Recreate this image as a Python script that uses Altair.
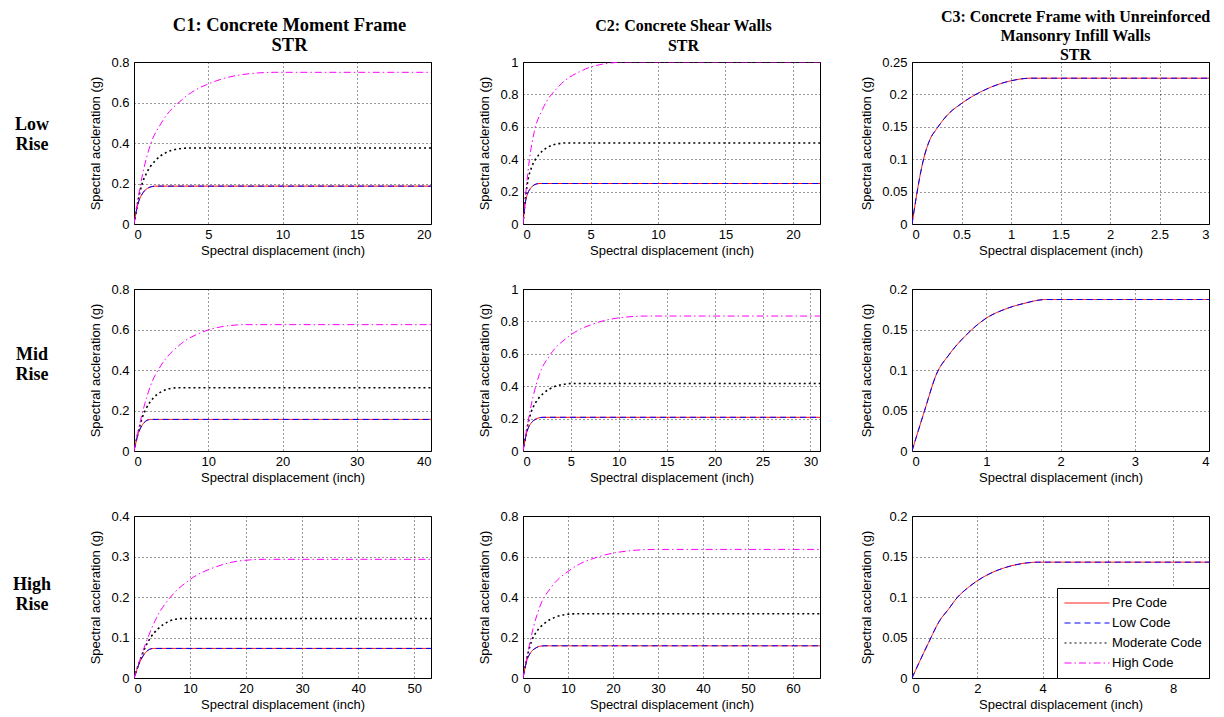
import altair as alt
import pandas as pd

# ---------------- data ----------------
CODES = ["Pre Code", "Low Code", "Moderate Code", "High Code"]
COLORS = ["#ff0000", "#0000ff", "#000000", "#ff00ff"]
DASHES = [[1, 0], [6, 4], [2, 3], [7, 3, 1.5, 3]]
WIDTHS = {"Pre Code": 1, "Low Code": 1, "Moderate Code": 1.6, "High Code": 1}

Y_TITLE = "Spectral accleration (g)"
X_TITLE = "Spectral displacement (inch)"

# C1 Low Rise
c1l_low_x = [0, 0.15, 0.255, 0.392, 0.623, 0.908, 1.158, 1.44, 20]
c1l_low_y = [0, 0.062, 0.097, 0.126, 0.156, 0.176, 0.184, 0.187, 0.187]
c1l_mod_x = [0, 0.30, 0.527, 0.849, 1.425, 2.169, 2.837, 3.60, 20]
c1l_mod_y = [0, 0.125, 0.194, 0.252, 0.312, 0.353, 0.369, 0.375, 0.375]
c1l_high_x = [0, 0.59, 1.091, 1.885, 3.40, 5.437, 7.307, 9.47, 20]
c1l_high_y = [0, 0.25, 0.388, 0.504, 0.624, 0.704, 0.738, 0.749, 0.749]

# C1 Mid Rise
c1m_low_x = [0, 0.32, 0.528, 0.768, 1.138, 1.564, 1.921, 2.31, 40]
c1m_low_y = [0, 0.052, 0.081, 0.105, 0.130, 0.147, 0.154, 0.156, 0.156]
c1m_mod_x = [0, 0.64, 1.082, 1.64, 2.565, 3.696, 4.68, 5.78, 40]
c1m_mod_y = [0, 0.104, 0.162, 0.210, 0.260, 0.293, 0.307, 0.312, 0.312]
c1m_high_x = [0, 1.27, 2.231, 3.592, 6.028, 9.172, 11.996, 15.22, 40]
c1m_high_y = [0, 0.208, 0.323, 0.420, 0.520, 0.587, 0.615, 0.624, 0.624]

# C1 High Rise
c1h_low_x = [0, 0.61, 0.986, 1.384, 1.945, 2.543, 3.016, 3.51, 53]
c1h_low_y = [0, 0.024, 0.038, 0.049, 0.061, 0.069, 0.072, 0.073, 0.073]
c1h_mod_x = [0, 1.22, 2.013, 2.925, 4.33, 5.949, 7.305, 8.78, 53]
c1h_mod_y = [0, 0.049, 0.076, 0.099, 0.122, 0.138, 0.145, 0.147, 0.147]
c1h_high_x = [0, 2.43, 4.14, 6.351, 10.08, 14.71, 18.76, 23.32, 53]
c1h_high_y = [0, 0.098, 0.152, 0.197, 0.244, 0.275, 0.289, 0.293, 0.293]

# C2 Low Rise
c2l_low_x = [0, 0.12, 0.191, 0.298, 0.495, 0.754, 0.989, 1.26, 22]
c2l_low_y = [0, 0.10, 0.142, 0.177, 0.213, 0.237, 0.247, 0.25, 0.25]
c2l_mod_x = [0, 0.24, 0.397, 0.654, 1.15, 1.822, 2.441, 3.16, 22]
c2l_mod_y = [0, 0.2, 0.283, 0.353, 0.425, 0.473, 0.493, 0.5, 0.5]
c2l_high_x = [0, 0.48, 0.827, 1.436, 2.655, 4.34, 5.909, 7.74, 22]
c2l_high_y = [0, 0.4, 0.567, 0.706, 0.85, 0.946, 0.987, 1.0, 1.0]

# C2 Mid Rise
c2m_low_x = [0, 0.26, 0.401, 0.589, 0.915, 1.325, 1.689, 2.10, 31]
c2m_low_y = [0, 0.083, 0.118, 0.147, 0.177, 0.197, 0.205, 0.208, 0.208]
c2m_mod_x = [0, 0.52, 0.825, 1.274, 2.095, 3.17, 4.143, 5.26, 31]
c2m_mod_y = [0, 0.167, 0.236, 0.294, 0.354, 0.394, 0.411, 0.417, 0.417]
c2m_high_x = [0, 1.04, 1.704, 2.764, 4.788, 7.512, 10.013, 12.91, 31]
c2m_high_y = [0, 0.333, 0.472, 0.588, 0.708, 0.788, 0.822, 0.833, 0.833]

# C2 High Rise
c2h_low_x = [0, 0.59, 0.908, 1.333, 2.063, 2.981, 3.792, 4.71, 66]
c2h_low_y = [0, 0.063, 0.090, 0.112, 0.135, 0.150, 0.157, 0.159, 0.159]
c2h_mod_x = [0, 1.18, 1.87, 2.875, 4.71, 7.107, 9.276, 11.76, 66]
c2h_mod_y = [0, 0.127, 0.180, 0.224, 0.269, 0.300, 0.313, 0.317, 0.317]
c2h_high_x = [0, 2.36, 3.872, 6.281, 10.893, 17.10, 22.807, 29.41, 66]
c2h_high_y = [0, 0.254, 0.360, 0.448, 0.540, 0.601, 0.626, 0.635, 0.635]

# C3 (pre code and low code only)
c3l_low_x = [0, 0.12, 0.18, 0.25, 0.35, 0.5, 0.75, 1.0, 1.2, 3]
c3l_low_y = [0, 0.102, 0.13, 0.147, 0.167, 0.186, 0.208, 0.221, 0.225, 0.225]
c3m_low_x = [0, 0.17, 0.33, 0.5, 0.75, 1.0, 1.25, 1.5, 1.8, 4]
c3m_low_y = [0, 0.05, 0.095, 0.119, 0.145, 0.164, 0.175, 0.182, 0.187, 0.187]
c3h_low_x = [0, 0.5, 0.85, 1.1, 1.4, 1.7, 2.0, 2.5, 3.0, 3.5, 3.85, 9.1]
c3h_low_y = [0, 0.043, 0.071, 0.084, 0.1, 0.111, 0.12, 0.131, 0.138, 0.142, 0.143, 0.143]

# axis limits and tick labels
c1l_xticks, c1l_yticks = [0, 5, 10, 15, 20], [0, 0.2, 0.4, 0.6, 0.8]
c1m_xticks, c1m_yticks = [0, 10, 20, 30, 40], [0, 0.2, 0.4, 0.6, 0.8]
c1h_xticks, c1h_yticks = [0, 10, 20, 30, 40, 50], [0, 0.1, 0.2, 0.3, 0.4]
c2l_xticks, c2l_yticks = [0, 5, 10, 15, 20], [0, 0.2, 0.4, 0.6, 0.8, 1]
c2m_xticks, c2m_yticks = [0, 5, 10, 15, 20, 25, 30], [0, 0.2, 0.4, 0.6, 0.8, 1]
c2h_xticks, c2h_yticks = [0, 10, 20, 30, 40, 50, 60], [0, 0.2, 0.4, 0.6, 0.8]
c3l_xticks, c3l_yticks = [0, 0.5, 1, 1.5, 2, 2.5, 3], [0, 0.05, 0.1, 0.15, 0.2, 0.25]
c3m_xticks, c3m_yticks = [0, 1, 2, 3, 4], [0, 0.05, 0.1, 0.15, 0.2]
c3h_xticks, c3h_yticks = [0, 2, 4, 6, 8], [0, 0.05, 0.1, 0.15, 0.2]

COL_TITLES = [
    ["C1: Concrete Moment Frame", "STR"],
    ["C2: Concrete Shear Walls", "STR"],
    ["C3: Concrete Frame with Unreinforced", "Mansonry Infill Walls", "STR"],
]
ROW_LABELS = ["Low\nRise", "Mid\nRise", "High\nRise"]

# ---------------- chart ----------------
W, H = 297, 162
SERIF = "Liberation Serif"
SANS = "Liberation Sans"

color_scale = alt.Scale(domain=CODES, range=COLORS)
dash_scale = alt.Scale(domain=CODES, range=DASHES)


def panel(series, xmax, xticks, ymax, yticks, title=None, title_size=17,
          title_offset=2, title_dx=0, title_lh=20, row_label=None, row_label_y=66,
          legend=False):
    rows = []
    for code, xs, ys in series:
        for x, y in zip(xs, ys):
            rows.append({"code": code, "x": x, "y": y})
    df = pd.DataFrame(rows)
    x_enc = alt.X("x:Q", scale=alt.Scale(domain=[0, xmax], nice=False, zero=True),
                  axis=alt.Axis(values=xticks, format="~r", title=X_TITLE))
    y_enc = alt.Y("y:Q", scale=alt.Scale(domain=[0, ymax], nice=False, zero=True),
                  axis=alt.Axis(values=yticks, format="~r", title=Y_TITLE))
    if legend:
        leg = alt.Legend(title=None, orient="bottom-right", offset=0,
                         symbolType="stroke", symbolSize=2025, symbolStrokeWidth=1,
                         clipHeight=16, rowPadding=4, labelOffset=2,
                         labelFont=SANS, labelFontSize=13, labelColor="black",
                         fillColor="white", strokeColor="black", padding=7,
                         cornerRadius=0)
    else:
        leg = None
    layers = []
    for code, _, _ in series:
        layers.append(
            alt.Chart(df)
            .transform_filter(alt.datum.code == code)
            .mark_line(strokeWidth=WIDTHS[code], interpolate="monotone", clip=True)
            .encode(
                x=x_enc,
                y=y_enc,
                color=alt.Color("code:N", scale=color_scale, legend=leg),
                strokeDash=alt.StrokeDash("code:N", scale=dash_scale, legend=leg),
            )
        )
    if row_label is not None:
        layers.append(
            alt.Chart(pd.DataFrame({"label": [row_label]}))
            .mark_text(font=SERIF, fontSize=18, fontWeight="bold", align="center",
                       baseline="middle", lineBreak="\n", lineHeight=20, color="black")
            .encode(x=alt.value(-102), y=alt.value(row_label_y), text="label:N")
        )
    ch = alt.layer(*layers).properties(width=W, height=H)
    if title is not None:
        ch = ch.properties(title=alt.TitleParams(
            text=title, font=SERIF, fontSize=title_size, fontWeight="bold",
            color="black", lineHeight=title_lh, offset=title_offset, dx=title_dx,
            anchor="middle", frame="group"))
    return ch


def four(pre_x, pre_y, mod_x, mod_y, high_x, high_y):
    return [("Pre Code", pre_x, pre_y), ("Low Code", pre_x, pre_y),
            ("Moderate Code", mod_x, mod_y), ("High Code", high_x, high_y)]


def two(x, y):
    return [("Pre Code", x, y), ("Low Code", x, y)]


panels = [
    panel(four(c1l_low_x, c1l_low_y, c1l_mod_x, c1l_mod_y, c1l_high_x, c1l_high_y),
          20, c1l_xticks, 0.8, c1l_yticks, title=COL_TITLES[0], title_size=18.5,
          title_dx=7, row_label=ROW_LABELS[0], row_label_y=63),
    panel(four(c2l_low_x, c2l_low_y, c2l_mod_x, c2l_mod_y, c2l_high_x, c2l_high_y),
          22, c2l_xticks, 1.0, c2l_yticks, title=COL_TITLES[1], title_size=16,
          title_dx=12),
    panel(two(c3l_low_x, c3l_low_y), 3, c3l_xticks, 0.25, c3l_yticks,
          title=COL_TITLES[2], title_size=16, title_offset=-7, title_dx=15,
          title_lh=19),
    panel(four(c1m_low_x, c1m_low_y, c1m_mod_x, c1m_mod_y, c1m_high_x, c1m_high_y),
          40, c1m_xticks, 0.8, c1m_yticks, row_label=ROW_LABELS[1], row_label_y=66),
    panel(four(c2m_low_x, c2m_low_y, c2m_mod_x, c2m_mod_y, c2m_high_x, c2m_high_y),
          31, c2m_xticks, 1.0, c2m_yticks),
    panel(two(c3m_low_x, c3m_low_y), 4, c3m_xticks, 0.2, c3m_yticks),
    panel(four(c1h_low_x, c1h_low_y, c1h_mod_x, c1h_mod_y, c1h_high_x, c1h_high_y),
          53, c1h_xticks, 0.4, c1h_yticks, row_label=ROW_LABELS[2], row_label_y=69),
    panel(four(c2h_low_x, c2h_low_y, c2h_mod_x, c2h_mod_y, c2h_high_x, c2h_high_y),
          66, c2h_xticks, 0.8, c2h_yticks),
    panel(two(c3h_low_x, c3h_low_y), 9.1, c3h_xticks, 0.2, c3h_yticks, legend=True),
]

chart = (
    alt.concat(*panels, columns=3, spacing={"row": 65, "column": 92}, bounds="flush")
    .resolve_scale(color="independent", strokeDash="independent")
    .properties(padding={"left": 4, "top": 0, "right": 5, "bottom": 2}, background="white")
    .configure_view(stroke="black", strokeWidth=1)
    .configure_axis(
        labelFont=SANS, labelFontSize=13, labelColor="black",
        titleFont=SANS, titleFontSize=13, titleFontWeight="normal", titleColor="black",
        ticks=False, domain=False,
        grid=True, gridColor="black", gridDash=[1, 3], gridOpacity=0.8, gridWidth=1,
    )
    .configure_axisY(labelPadding=5, titlePadding=8)
    .configure_axisX(labelPadding=4, titlePadding=3)
)

chart.save("out.html", embed_options={"renderer": "svg", "actions": False})
